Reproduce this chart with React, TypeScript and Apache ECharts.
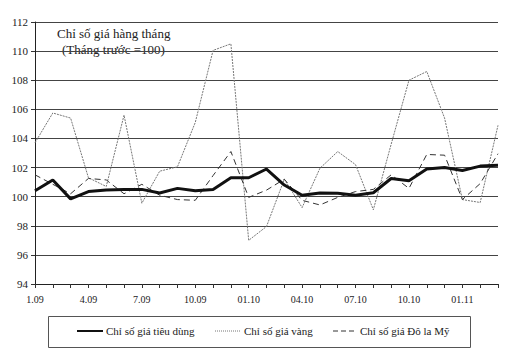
import React, { useEffect, useRef } from "react";
import * as echarts from "echarts";

const months = [
  "1.09", "2.09", "3.09", "4.09", "5.09", "6.09", "7.09", "8.09", "9.09", "10.09", "11.09", "12.09",
  "01.10", "02.10", "03.10", "04.10", "05.10", "06.10", "07.10", "08.10", "09.10", "10.10", "11.10", "12.10",
  "01.11", "02.11", "03.11",
];

const cpi = [
  100.4, 101.15, 99.85, 100.35, 100.45, 100.5, 100.5, 100.25, 100.57, 100.4, 100.5, 101.3, 101.3,
  101.9, 100.8, 100.1, 100.25, 100.23, 100.1, 100.27, 101.25, 101.1, 101.9, 102.0, 101.8, 102.1, 102.15,
];

const gold = [
  103.7, 105.75, 105.4, 101.3, 100.7, 105.6, 99.55, 101.75, 102.05, 105.1, 110.05, 110.5, 97.0,
  97.95, 101.2, 99.25, 101.95, 103.1, 102.2, 99.1, 103.6, 108.0, 108.6, 105.4, 99.8, 99.6, 104.9,
];

const usd = [
  101.5, 100.85, 100.2, 101.25, 101.15, 100.2, 100.85, 100.1, 99.8, 99.75, 101.45, 103.1, 99.95,
  100.45, 101.2, 99.75, 99.43, 99.95, 100.35, 100.5, 101.5, 100.57, 102.9, 102.85, 99.8, 100.9, 102.95,
];

const seriesNames = ["Chỉ số giá tiêu dùng", "Chỉ số giá vàng", "Chỉ số giá Đô la Mỹ"];
const titleLines = ["Chỉ số giá hàng tháng", "(Tháng trước =100)"];

const FONT = "'Liberation Serif', 'DejaVu Serif', serif";

const CPI_STYLE = { color: "#111", width: 3 };
const GOLD_STYLE = { color: "#777", width: 1, type: [2, 1] as number[] };
const USD_STYLE = { color: "#333", width: 1, type: [6, 4] as number[] };

export default function App() {
  const ref = useRef<HTMLDivElement>(null);
  useEffect(() => {
    if (!ref.current) return;
    const chart = echarts.init(ref.current, undefined, { renderer: "svg" });

    const legendY = 331;
    const legendItems = [
      { x1: 77, x2: 103, tx: 106, name: seriesNames[0], stroke: "#111", lineWidth: 2, dash: null as number[] | null },
      { x1: 215, x2: 240, tx: 244, name: seriesNames[1], stroke: "#777", lineWidth: 1, dash: [1, 1] },
      { x1: 333, x2: 356, tx: 360, name: seriesNames[2], stroke: "#333", lineWidth: 1, dash: [5, 3] },
    ];
    const legendGraphics: any[] = [
      {
        type: "rect",
        shape: { x: 48.5, y: 316.5, width: 422, height: 31 },
        style: { fill: "#fff", stroke: "#555", lineWidth: 1 },
        z: 10,
      },
    ];
    legendItems.forEach((it) => {
      legendGraphics.push({
        type: "line",
        shape: { x1: it.x1, y1: legendY, x2: it.x2, y2: legendY },
        style: { stroke: it.stroke, lineWidth: it.lineWidth, lineDash: it.dash || undefined },
        z: 11,
      });
      legendGraphics.push({
        type: "text",
        x: it.tx,
        y: legendY,
        style: {
          text: it.name,
          fontFamily: FONT,
          fontSize: 11,
          fill: "#222",
          verticalAlign: "middle",
          align: "left",
        },
        z: 11,
      });
    });

    chart.setOption({
      animation: false,
      backgroundColor: "#fff",
      textStyle: { fontFamily: FONT },
      grid: { left: 35, right: 20, top: 22, bottom: 71, containLabel: false },
      xAxis: {
        type: "category",
        data: months,
        boundaryGap: false,
        axisLine: { lineStyle: { color: "#222", width: 1 } },
        axisTick: { show: true, interval: 0, length: 4, lineStyle: { color: "#333" } },
        axisLabel: { interval: 2, color: "#222", fontFamily: FONT, fontSize: 10, margin: 10 },
        splitLine: { show: false },
      },
      yAxis: {
        type: "value",
        min: 94,
        max: 112,
        interval: 2,
        axisLine: { show: true, lineStyle: { color: "#222", width: 1 } },
        axisTick: { show: true, length: 4, lineStyle: { color: "#333" } },
        axisLabel: { color: "#222", fontFamily: FONT, fontSize: 11, margin: 7 },
        splitLine: { show: true, lineStyle: { color: "#444", width: 1 } },
      },
      graphic: [
        {
          type: "text",
          left: 57,
          top: 27,
          style: { text: titleLines[0], fontFamily: FONT, fontSize: 13, fill: "#222" },
        },
        {
          type: "text",
          left: 62,
          top: 43,
          style: { text: titleLines[1], fontFamily: FONT, fontSize: 13, fill: "#222" },
        },
        ...legendGraphics,
      ],
      series: [
        {
          name: seriesNames[1],
          type: "line",
          data: gold,
          symbol: "none",
          lineStyle: GOLD_STYLE,
          z: 2,
        },
        {
          name: seriesNames[2],
          type: "line",
          data: usd,
          symbol: "none",
          lineStyle: USD_STYLE,
          z: 3,
        },
        {
          name: seriesNames[0],
          type: "line",
          data: cpi,
          symbol: "none",
          lineStyle: CPI_STYLE,
          z: 4,
        },
      ],
    });
    return () => chart.dispose();
  }, []);
  return <div ref={ref} style={{ width: 518, height: 355, position: "absolute", left: 0, top: 0 }} />;
}
